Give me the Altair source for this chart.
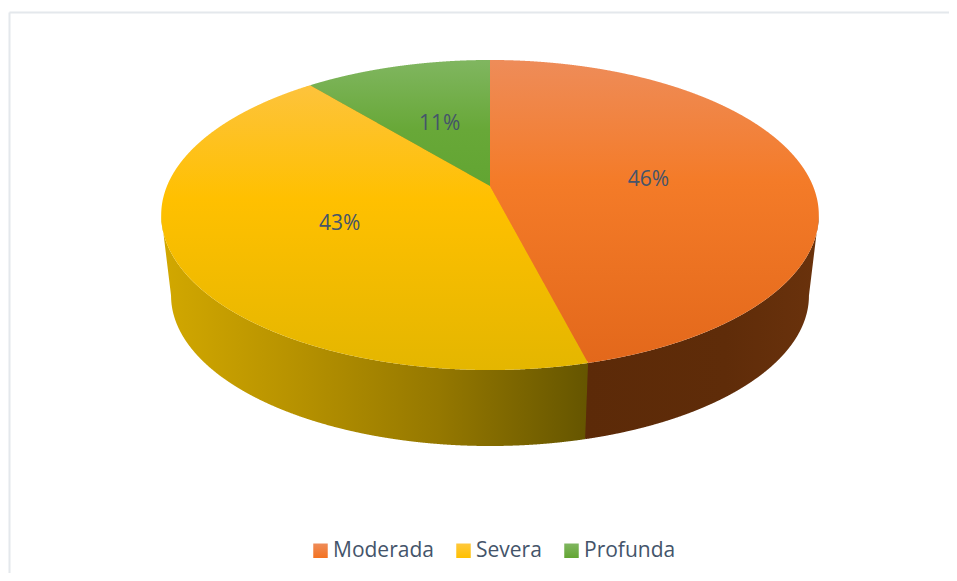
import numpy as np
import pandas as pd
import altair as alt

categories = ["Moderada", "Severa", "Profunda"]
shares = [46, 43, 11]
labels = ["46%", "43%", "11%"]
TEXT = "#44546A"
FONT = "Open Sans"

# projection of the tilted disc
CX, CY, A, B, K = 490.0, 186.0, 323.0, 149.6, 0.1871
BS, BCY = 0.97, 267.5  # bottom rim scale and centre


def proj(theta, r=1.0, s=1.0, cy=CY):
    u, v = r * np.sin(theta), r * np.cos(theta)
    w = 1 + K * v
    return CX + s * A * u / w, cy - s * B * v / w


TR = np.arccos(-K)
tu = np.linspace(-TR, TR, 900)
tl = np.linspace(2 * np.pi - TR, TR, 900)


def branches(s=1.0, cy=CY):
    xu, yu = proj(tu, s=s, cy=cy)
    xl, yl = proj(tl, s=s, cy=cy)
    return xu, yu, xl, yl


xu, yu, xl, yl = branches()
bxu, byu, bxl, byl = branches(BS, BCY)
up = lambda x: np.interp(x, xu, yu)
lo = lambda x: np.interp(x, xl, yl)
blo = lambda x: np.interp(x, bxl, byl)

th = np.cumsum(shares) / 100 * 2 * np.pi
e1x, e1y = proj(th[0])
e2x, e2y = proj(th[1])
be1x, be1y = proj(th[0], s=BS, cy=BCY)
XL, XR = xl[0], xl[-1]
BXL, BXR = bxl[0], bxl[-1]
XLY, XRY = yl[0], yl[-1]
BXLY, BXRY = byl[0], byl[-1]


def grid(a, b, *extra):
    g = np.concatenate([xu, xl, bxl, np.linspace(a, b, 400), np.array(extra + (a, b))])
    return np.unique(g[(g >= a) & (g <= b)])


def line(x, x0, y0, x1, y1):
    return y0 + (x - x0) * (y1 - y0) / (x1 - x0)


# underlays hide hairline seams between neighbouring faces
ux, uyu, _, _ = branches(0.99)
_, _, ulx, uyl = branches(0.99)
ug = grid(ulx[0], ulx[-1])
under_top = pd.DataFrame({"x": ug, "y": np.interp(ug, ux, uyu), "y2": np.interp(ug, ulx, uyl)})
us = grid(be1x - 1.5, e1x + 1.5)
under_side = pd.DataFrame({"x": us, "y": lo(us) + 1, "y2": blo(us) - 1})

# top faces
gy = grid(XL, e1x, e2x, CX)
top_y = pd.DataFrame({
    "x": gy,
    "y": np.where(gy < e2x, up(gy), np.where(gy < CX, line(gy, e2x, e2y, CX, CY), line(gy, CX, CY, e1x, e1y))),
    "y2": lo(gy),
})
gg = grid(e2x, CX)
top_g = pd.DataFrame({"x": gg, "y": up(gg), "y2": line(gg, e2x, e2y, CX, CY)})
go = grid(CX, XR, e1x)
top_o = pd.DataFrame({
    "x": go,
    "y": up(go),
    "y2": np.where(go < e1x, line(go, CX, CY, e1x, e1y), lo(go)),
})

# side walls
sy = grid(XL, e1x, BXL, be1x)
side_y = pd.DataFrame({
    "x": sy,
    "y": lo(sy),
    "y2": np.where(sy < BXL, line(sy, XL, XLY, BXL, BXLY),
                   np.where(sy < be1x, blo(sy), line(sy, be1x, be1y, e1x, e1y))),
})
so = grid(be1x, XR, e1x, BXR)
side_o = pd.DataFrame({
    "x": so,
    "y": np.where(so < e1x, line(so, be1x, be1y, e1x, e1y), lo(so)),
    "y2": np.where(so < BXR, blo(so), line(so, BXR, BXRY, XR, XRY)),
})

# data labels at half radius of each slice
mids = np.cumsum(shares) / 100 * 2 * np.pi - np.array(shares) / 200 * 2 * np.pi
lx, ly = proj(mids, r=0.5)
label_df = pd.DataFrame({"x": lx, "y": ly, "label": labels, "cat": categories})

xs = alt.Scale(domain=[8, 949], range=[0, 941], nice=False, zero=False)
ys = alt.Scale(domain=[573, 8], nice=False, zero=False)
X = alt.X("x:Q", scale=xs, axis=None)
Y = alt.Y("y:Q", scale=ys, axis=None)


def vgrad(*stops):
    return alt.Gradient(gradient="linear", x1=0, x2=0, y1=0, y2=1,
                        stops=[alt.GradientStop(offset=o, color=c) for o, c in stops])


def hgrad(*stops):
    return alt.Gradient(gradient="linear", x1=0, x2=1, y1=0, y2=0,
                        stops=[alt.GradientStop(offset=o, color=c) for o, c in stops])


def area(df, fill):
    return alt.Chart(df).mark_area(color=fill, orient="vertical", interpolate="linear").encode(
        x=X, y=Y, y2="y2:Q")


side_under = area(under_side, "#5F4A08")
top_under = area(under_top, "#EFA018")
side_yellow = area(side_y, hgrad((0, "#D2A800"), (0.3, "#B89300"), (0.65, "#957800"), (1, "#655500")))
side_orange = area(side_o, hgrad((0, "#5C2A08"), (0.6, "#5F2C09"), (1, "#6A320C")))
face_yellow = area(top_y, vgrad((0, "#FDC33C"), (0.4, "#FFC000"), (1, "#E4B600")))
face_green = area(top_g, vgrad((0, "#80B660"), (0.55, "#68A838"), (1, "#62A532")))
face_orange = area(top_o, vgrad((0, "#EE8C59"), (0.4, "#F47B28"), (1, "#E3681B")))

frame = pd.DataFrame({"x": [9.5], "x2": [949], "y": [12.5], "y2": [573]})
frame_top = alt.Chart(frame).mark_rule(color="#E4E8EC", strokeWidth=2).encode(
    x=X, x2="x2:Q", y=Y)
frame_left = alt.Chart(frame).mark_rule(color="#E4E8EC", strokeWidth=2).encode(
    x=X, y=Y, y2="y2:Q")

text = alt.Chart(label_df).mark_text(font=FONT, fontSize=21, color=TEXT, dy=3).encode(
    x=X, y=Y, text="label:N")


def sym_expr(c1, c2):
    return {"expr": "{gradient:'linear',x1:0,y1:0,x2:0,y2:1,stops:[{offset:0,color:'%s'},{offset:1,color:'%s'}]}" % (c1, c2)}


legend_layer = alt.Chart(label_df).mark_square(opacity=0, size=1).encode(
    x=X, y=Y,
    color=alt.Color(
        "cat:N",
        scale=alt.Scale(domain=categories, range=[
            sym_expr("#EE8C59", "#F47220"),
            sym_expr("#FFC83C", "#FFC000"),
            sym_expr("#80B660", "#62A532"),
        ]),
        sort=categories,
        legend=alt.Legend(
            title=None, orient="none", legendX=302, legendY=532, direction="horizontal",
            symbolType="square", symbolSize=210, symbolOpacity=1, symbolStrokeWidth=0,
            labelFont=FONT, labelFontSize=21, labelColor=TEXT, labelOffset=2,
            columnPadding=19,
        ),
    ),
)

chart = alt.layer(
    frame_top, frame_left, side_under, top_under, side_yellow, side_orange,
    face_yellow, face_green, face_orange, text, legend_layer,
).properties(width=941, height=565, padding=0, background="white",
             autosize=alt.AutoSizeParams(type="none")).configure_view(stroke=None)

chart.save("out.html", embed_options={"renderer": "svg", "actions": False})
